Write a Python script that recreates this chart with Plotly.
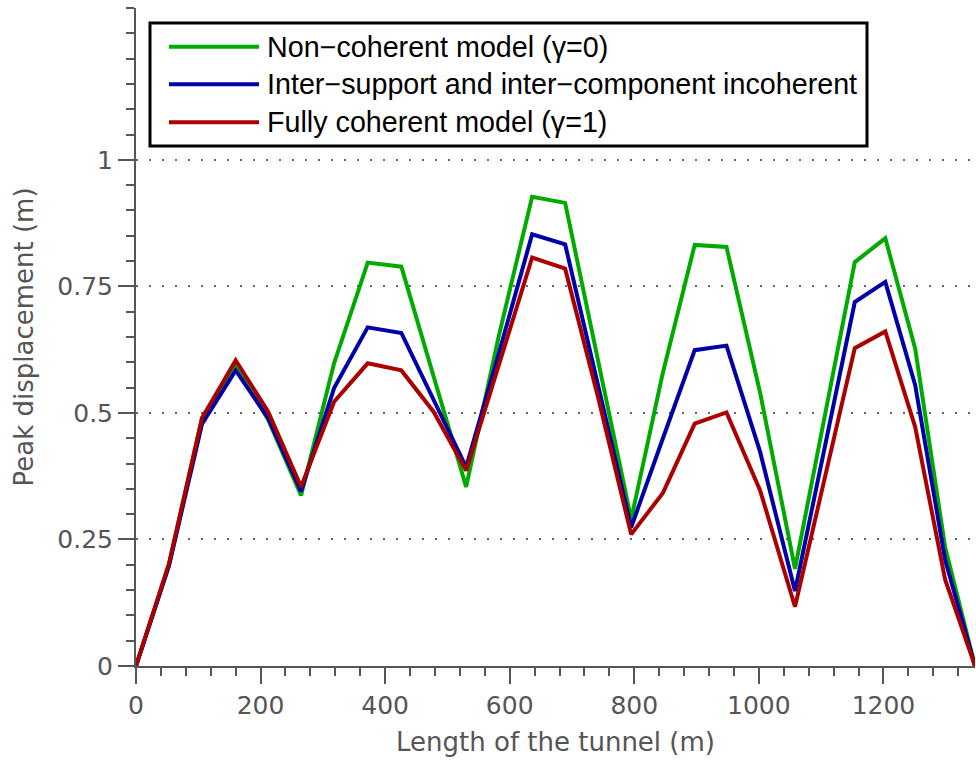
import plotly.graph_objects as go

# Support positions along the tunnel (m)
length_m = [0, 53, 106, 160, 212, 265, 318, 372, 426, 478, 530, 583, 636,
            689, 742, 795, 846, 897, 948, 1002, 1058, 1154, 1203, 1251, 1299, 1347]

# Peak displacement (m) for each coherency model
non_coherent = [0, 0.200, 0.490, 0.595, 0.487, 0.337, 0.598, 0.797, 0.789, 0.572,
                0.354, 0.655, 0.927, 0.915, 0.603, 0.290, 0.580, 0.832, 0.828, 0.540,
                0.192, 0.798, 0.845, 0.627, 0.235, 0]
inter_incoherent = [0, 0.198, 0.478, 0.584, 0.490, 0.345, 0.549, 0.669, 0.658, 0.525,
                    0.393, 0.620, 0.853, 0.833, 0.553, 0.274, 0.450, 0.624, 0.633, 0.423,
                    0.148, 0.719, 0.759, 0.555, 0.210, 0]
fully_coherent = [0, 0.203, 0.490, 0.604, 0.503, 0.354, 0.522, 0.598, 0.584, 0.502,
                  0.386, 0.595, 0.807, 0.785, 0.530, 0.260, 0.342, 0.479, 0.501, 0.347,
                  0.117, 0.628, 0.661, 0.472, 0.171, 0]

series_names = ["Non\u2212coherent model (\u03b3=0)",
                "Inter\u2212support and inter\u2212component incoherent",
                "Fully coherent model (\u03b3=1)"]
series_values = [non_coherent, inter_incoherent, fully_coherent]
series_colors = ["#00aa00", "#0000aa", "#aa0000"]

x_ticks = [0, 200, 400, 600, 800, 1000, 1200]
y_ticks = [0, 0.25, 0.5, 0.75, 1]
y_tick_text = ["0", "0.25", "0.5", "0.75", "1"]

W, H = 976, 760
ML, MR, MT, MB = 136, 1, 8, 94
X_MAX, Y_MAX = 1347, 1.3
axis_grey = "#555555"
tick_font = dict(family="Century Gothic, DejaVu Sans, sans-serif", size=25, color=axis_grey)
title_font = dict(family="Century Gothic, DejaVu Sans, sans-serif", size=26, color=axis_grey)

fig = go.Figure()
for name, vals, col in zip(series_names, series_values, series_colors):
    fig.add_trace(go.Scatter(x=length_m, y=vals, mode="lines", name=name,
                             line=dict(color=col, width=4), cliponaxis=False,
                             showlegend=False))

fig.update_xaxes(range=[0, X_MAX], tickmode="array", tickvals=x_ticks,
                 ticks="outside", ticklen=16, tickwidth=2, tickcolor=axis_grey,
                 showline=True, linecolor=axis_grey, linewidth=2,
                 showgrid=False, zeroline=False, tickfont=tick_font,
                 minor=dict(tickmode="linear", tick0=0, dtick=40, ticks="outside",
                            ticklen=8, tickwidth=2, tickcolor=axis_grey, showgrid=False),
                 title=dict(text="Length of the tunnel (m)", font=title_font, standoff=14))
fig.update_yaxes(range=[0, Y_MAX], tickmode="array", tickvals=y_ticks, ticktext=y_tick_text,
                 ticks="outside", ticklen=16, tickwidth=2, tickcolor=axis_grey,
                 showline=True, linecolor=axis_grey, linewidth=2,
                 showgrid=True, gridcolor="#666666", gridwidth=1.5, griddash="2px,11px",
                 zeroline=False, tickfont=tick_font,
                 minor=dict(tickmode="linear", tick0=0, dtick=0.05, ticks="outside",
                            ticklen=8, tickwidth=2, tickcolor=axis_grey, showgrid=False),
                 title=dict(text="Peak displacement (m)", font=title_font, standoff=16))

# Legend box drawn in pixel space, converted to paper coordinates
pw, ph = W - ML - MR, H - MT - MB
def px(xp):
    return (xp - ML) / pw
def py(yp):
    return (H - MB - yp) / ph

fig.add_shape(type="rect", xref="paper", yref="paper",
              x0=px(150), x1=px(867), y0=py(146), y1=py(23),
              line=dict(color="black", width=3), fillcolor="white", layer="above")
row_y = [46.7, 84.3, 122.3]
for name, col, ry in zip(series_names, series_colors, row_y):
    fig.add_shape(type="line", xref="paper", yref="paper",
                  x0=px(169), x1=px(259), y0=py(ry), y1=py(ry),
                  line=dict(color=col, width=4), layer="above")
    fig.add_annotation(xref="paper", yref="paper", x=px(265), y=py(ry),
                       text=name, showarrow=False, xanchor="left", yanchor="middle",
                       font=dict(family="Liberation Sans, Arial, sans-serif", size=28.7, color="black"))

fig.update_layout(width=W, height=H, margin=dict(l=ML, r=MR, t=MT, b=MB),
                  plot_bgcolor="white", paper_bgcolor="white", showlegend=False)

fig.write_html("out.html")
